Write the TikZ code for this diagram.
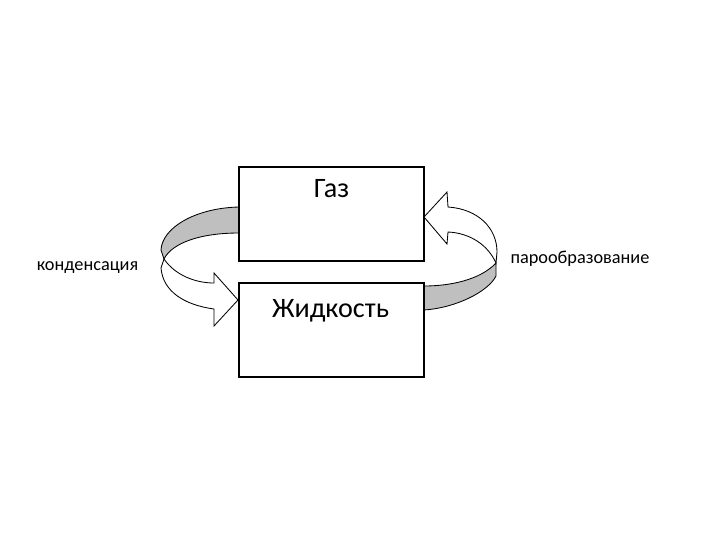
\documentclass[tikz,border=0pt]{standalone}
\usepackage{fontspec}
\setmainfont{Carlito}
\begin{document}
\begin{tikzpicture}[x=0.025cm,y=-0.025cm,
    state/.style={draw,line width=0.9pt,minimum width=4.625cm,minimum height=2.35cm,inner sep=0pt},
    statename/.style={anchor=base,font=\fontsize{20}{24}\selectfont},
    proc/.style={anchor=base,font=\fontsize{13}{15}\selectfont},
    band/.style={draw,line width=0.6pt,fill=black!25},
    face/.style={draw,line width=0.6pt,fill=white}]
  \useasboundingbox (0,0) rectangle (720,540);
  \begin{scope}
    \draw[band] (239,207) .. controls (195,208) and (162,228) .. (161,250)
      -- (164,259) .. controls (172,243) and (200,233) .. (239,233) -- cycle;
    \draw[face] (164,259) .. controls (175,275) and (195,283) .. (214,283)
      -- (214,273) -- (238,300) -- (214,326) -- (214,309)
      .. controls (185,305) and (163,292) .. (161,268) -- cycle;
    \draw[face] (424,217) -- (447,192) -- (448,207)
      .. controls (478,209) and (497,228) .. (497,252) -- (496,263)
      .. controls (488,245) and (470,233) .. (448,232) -- (447,244) -- cycle;
    \draw[band] (496,263) .. controls (480,280) and (450,286) .. (424,286)
      -- (424,310) .. controls (455,308) and (488,292) .. (496,276) -- cycle;
  \end{scope}
  \node[state] (gas) at (331.5,214) {};
  \node[state] (liquid) at (331.5,330) {};
  \node[statename] (gasname) at (331.5,197) {Газ};
  \node[statename] (liquidname) at (330.5,317) {Жидкость};
  \node[proc] (cond) at (87.5,270) {конденсация};
  \node[proc] (evap) at (580,263) {парообразование};
\end{tikzpicture}
\end{document}
